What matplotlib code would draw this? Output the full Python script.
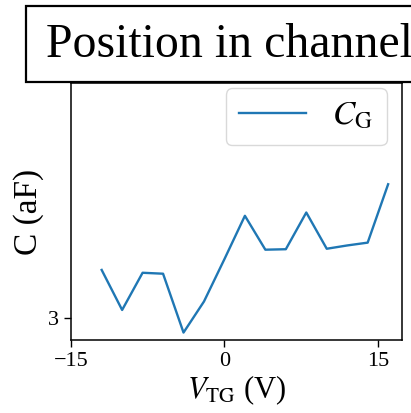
import matplotlib

matplotlib.use("Agg")
import matplotlib.pyplot as plt
from matplotlib.patches import Rectangle

plt.rcParams["font.family"] = ["Liberation Serif", "DejaVu Serif"]
plt.rcParams["mathtext.fontset"] = "stix"

# top-gate voltage sweep and gate capacitance
v_tg = [-12, -10, -8, -6, -4, -2, 0, 2, 4, 6, 8, 10, 12, 14, 16]
c_g = [3.103, 3.018, 3.097, 3.095, 2.970, 3.036, 3.126, 3.218, 3.146,
       3.147, 3.225, 3.148, 3.155, 3.161, 3.285]

x_ticks = [-15, 0, 15]
y_ticks = [3]
title = "Position in channel"

fig = plt.figure(figsize=(4.11, 4.13), dpi=100)
ax = fig.add_axes([0.1727, 0.1768, 0.8065, 0.6222])

ax.plot(v_tg, c_g, color="#1f77b4", lw=1.7, label=r"$C_{\mathrm{G}}$")
ax.set_xlim(left=-15)
ax.set_ylim(top=3.5)
ax.set_xticks(x_ticks)
ax.set_yticks(y_ticks)
ax.set_xticklabels(["\u221215", "0", "15"])
ax.tick_params(labelsize=16, length=5, width=1)
for sp in ax.spines.values():
    sp.set_linewidth(1.1)

ax.set_xlabel(r"$V_{\mathrm{TG}}$ (V)", fontsize=22, labelpad=2)
ax.set_ylabel("C (aF)", fontsize=24)
ax.yaxis.set_label_coords(-0.082, 0.5)

ax.legend(loc="upper right", bbox_to_anchor=(0.952, 0.98), borderaxespad=0,
          fontsize=24, handlelength=2.0, framealpha=0.8, edgecolor="#d0d0d0")

# boxed panel title, running off the right edge
fig.patches.append(Rectangle((26 / 411, 1 - 82 / 413), 0.98, 76 / 413,
                             transform=fig.transFigure, facecolor="white",
                             edgecolor="black", lw=1.6, zorder=5))
fig.text(46 / 411, 1 - 57 / 413, title, fontsize=34.4, ha="left",
         va="baseline", zorder=6)

fig.savefig("out.png", dpi=100)
